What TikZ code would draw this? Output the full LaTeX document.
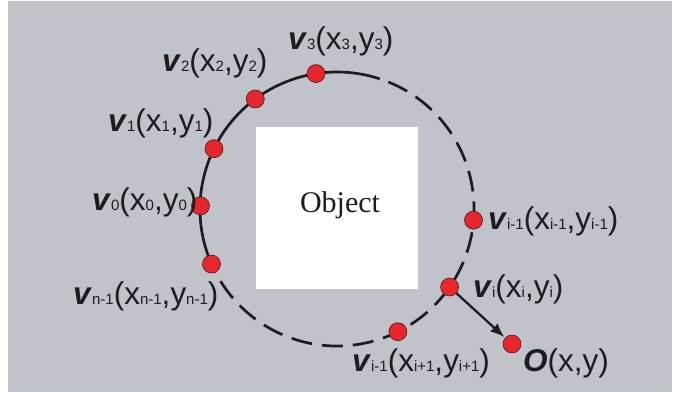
\documentclass[tikz,border=0pt]{standalone}
\usepackage{fontspec}
\setmainfont{Liberation Sans}
\newfontfamily\pObjFont{Liberation Serif}
\usetikzlibrary{arrows.meta}
\definecolor{pBack}{RGB}{192,195,201}
\definecolor{pDot}{RGB}{232,38,44}
\definecolor{pInk}{RGB}{30,28,30}
\newcommand{\pSub}[1]{{\fontsize{15}{15}\selectfont #1}}
\newcommand{\pVec}[1]{\textbf{\textit{#1}}}
\newcommand{\pLab}[3]{\pVec{#1}\pSub{#2}(x\pSub{#3},y\pSub{#3})}

\begin{document}
\begin{tikzpicture}[x=1pt,y=-1pt,
  pdot/.style={circle, fill=pDot, draw=pInk!80!pDot, line width=0.6pt, minimum size=18pt, inner sep=0pt},
  plab/.style={anchor=base west, inner sep=0pt, text=pInk, font=\fontsize{31.5}{31.5}\selectfont},
  ring/.style={line width=2.7pt, draw=pInk}]
\useasboundingbox (0,0) rectangle (673,395);
\fill[pBack] (8,1) rectangle (672,392);
\node[fill=white, minimum width=162pt, minimum height=162pt, inner sep=0pt] (obj) at (337,208) {};
\node[anchor=base, inner sep=0pt, text=pInk, font=\pObjFont\fontsize{30}{30}\selectfont] (objtext) at (340,213) {Object};
\coordinate (ctr) at (337,209);
\draw[ring] (ctr) ++(-203.7:137) arc[start angle=-203.7, end angle=-71.8, radius=137];
\draw[ring, dash pattern=on 21pt off 10pt] (ctr) ++(-68:137) arc[start angle=-68, end angle=156.3, radius=137];
\node[pdot] (v3) at (316,73.6) {};
\node[pdot] (v2) at (255.3,99) {};
\node[pdot] (v1) at (214,148.7) {};
\node[pdot] (v0) at (200.5,205.9) {};
\node[pdot] (vn) at (211.5,264.1) {};
\node[pdot] (vim) at (473.5,220.2) {};
\node[pdot] (vi) at (449.6,287) {};
\node[pdot] (vip) at (397.9,331.7) {};
\node[pdot] (o) at (512,344) {};
\draw[line width=2.3pt, draw=pInk, -{Latex[length=14pt,width=11pt]}, shorten >=1pt] (vi) -- (o);
\node[plab] (l3) at (288,50) {\pLab{v}{3}{3}};
\node[plab] (l2) at (162,72) {\pLab{v}{2}{2}};
\node[plab] (l1) at (108,132) {\pLab{v}{1}{1}};
\node[plab] (l0) at (92,211) {\pLab{v}{0}{0}};
\node[plab] (ln) at (73,305) {\pLab{v}{n-1}{n-1}};
\node[plab] (lim) at (488,230) {\pLab{v}{i-1}{i-1}};
\node[plab] (li) at (473,298) {\pLab{v}{i}{i}};
\node[plab] (lip) at (352,372) {\pLab{v}{i-1}{i+1}};
\node[plab] (lo) at (523,372) {\pVec{O}(x,y)};
\end{tikzpicture}
\end{document}
